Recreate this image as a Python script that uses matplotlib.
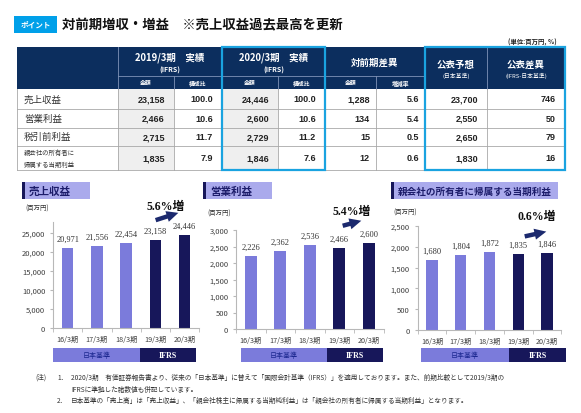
# 対前期増収・増益 slide: summary table + three bar charts
import matplotlib
matplotlib.use("Agg")
import matplotlib.pyplot as plt
from matplotlib.patches import Rectangle, FancyArrowPatch
from matplotlib.ticker import StrMethodFormatter

plt.rcParams['font.family'] = ['Noto Sans CJK JP', 'DejaVu Sans']

# Table data
row_labels = ["売上収益", "営業利益", "税引前利益", "親会社の所有者に\n帰属する当期利益"]
fy2019_amt = [23158, 2466, 2715, 1835]
fy2019_ratio = [100.0, 10.6, 11.7, 7.9]
fy2020_amt = [24446, 2600, 2729, 1846]
fy2020_ratio = [100.0, 10.6, 11.2, 7.6]
yoy_amt = [1288, 134, 15, 12]
yoy_rate = [5.6, 5.4, 0.5, 0.6]
forecast = [23700, 2550, 2650, 1830]
forecast_diff = [746, 50, 79, 16]

# Chart data
periods = ["16/3期", "17/3期", "18/3期", "19/3期", "20/3期"]
revenue = [20971, 21556, 22454, 23158, 24446]
op_income = [2226, 2362, 2536, 2466, 2600]
net_income = [1680, 1804, 1872, 1835, 1846]
chart_titles = ["売上収益", "営業利益", "親会社の所有者に帰属する当期利益"]
growth = ["5.6%増", "5.4%増", "0.6%増"]

W, H = 581, 414
NAVY = "#0c2e5e"
CYAN = "#1aa3e0"
LAV = "#7b7bdb"
LAV_LIGHT = "#aaaaec"
DARK = "#17175a"
GRAY_LINE = "#a8a8a8"
JP = ['Noto Sans CJK JP', 'DejaVu Sans']
SERIF = ['Liberation Serif', 'Noto Sans CJK JP']
NUM = ['Liberation Sans', 'DejaVu Sans']

fig = plt.figure(figsize=(W / 100, H / 100), dpi=100)
bg = fig.add_axes([0, 0, 1, 1])
bg.set_xlim(0, W)
bg.set_ylim(H, 0)
bg.axis('off')

# Title
bg.add_patch(Rectangle((14, 17), 43, 17, color="#00a0e9", lw=0))
bg.text(35.5, 25.5, "ポイント", color="white", fontsize=5.5, fontweight='bold',
        ha='center', va='center')
bg.text(62, 25.5, "対前期増収・増益　※売上収益過去最高を更新", fontsize=9.6,
        fontweight='bold', ha='left', va='center', color="#111111")
bg.text(557, 42, "(単位:百万円, %)", fontsize=4.6, fontweight='bold',
        ha='right', va='center', color="#222222")

# Table
cols = [17, 118, 174, 222, 278, 325, 376, 425, 487, 565]
rows = [90, 110, 128.5, 147, 171]
bg.add_patch(Rectangle((cols[0], 48), cols[-1] - cols[0], 42, color=NAVY, lw=0))
light = "#7f93b8"
bg.plot([cols[1], cols[7]], [77, 77], color=light, lw=0.6)
for x in [cols[1], cols[8]]:
    bg.plot([x, x], [48, 90], color=light, lw=0.6)
for x in [cols[2], cols[4], cols[6]]:
    bg.plot([x, x], [77, 90], color=light, lw=0.6)

hdr = dict(color="white", fontweight='bold', ha='center', va='center')
bg.text((cols[1] + cols[3]) / 2, 58, "2019/3期　実績", fontsize=6.8, **hdr)
bg.text((cols[1] + cols[3]) / 2, 70, "(IFRS)", fontsize=5, **hdr)
bg.text((cols[3] + cols[5]) / 2, 58, "2020/3期　実績", fontsize=6.8, **hdr)
bg.text((cols[3] + cols[5]) / 2, 70, "(IFRS)", fontsize=5, **hdr)
bg.text((cols[5] + cols[7]) / 2, 62.5, "対前期差異", fontsize=6.8, **hdr)
bg.text((cols[7] + cols[8]) / 2, 65, "公表予想", fontsize=6.8, **hdr)
bg.text((cols[8] + cols[9]) / 2, 65, "公表差異", fontsize=6.8, **hdr)
sub = dict(color="white", ha='center', va='center', fontsize=4.2)
bg.text((cols[7] + cols[8]) / 2, 75.5, "(日本基準)", **sub)
bg.text((cols[8] + cols[9]) / 2, 75.5, "(IFRS-日本基準)", **sub)
for i, s in enumerate(["金額", "構成比", "金額", "構成比", "金額", "増減率"]):
    bg.text((cols[1 + i] + cols[2 + i]) / 2, 83.5, s, fontweight='bold', **sub)

# cells
table_cols = [fy2019_amt, fy2019_ratio, fy2020_amt, fy2020_ratio,
              yoy_amt, yoy_rate, forecast, forecast_diff]
ratio_cols = {1, 3, 5}
for r in range(len(row_labels)):
    y0, y1 = rows[r], rows[r + 1]
    yc = (y0 + y1) / 2
    for c in (0, 2):
        bg.add_patch(Rectangle((cols[1 + c], y0), cols[2 + c] - cols[1 + c], y1 - y0,
                               color="#efefef", lw=0))
    if r < 3:
        bg.text(24, yc, row_labels[r], fontsize=6.8, ha='left', va='center',
                color="#333333")
    else:
        bg.text(24, yc, row_labels[r], fontsize=4.6, ha='left', va='center',
                color="#333333", linespacing=1.7)
    for c, vals in enumerate(table_cols):
        v = vals[r]
        s = f"{v:.1f}" if c in ratio_cols else f"{v:,}"
        pad = 6 if c in (4, 5) else 9
        bg.text(cols[2 + c] - pad, yc, s, fontsize=6.5, fontweight='bold',
                family=NUM, ha='right', va='center', color="#222222")
for y in rows[1:]:
    bg.plot([cols[0], cols[-1]], [y, y], color=GRAY_LINE, lw=0.6)
for x in cols:
    bg.plot([x, x], [rows[0], rows[-1]], color=GRAY_LINE, lw=0.6)
bg.add_patch(Rectangle((cols[3], 48), cols[5] - cols[3], rows[-1] - 48,
                       fill=False, ec=CYAN, lw=1.6, zorder=5))
bg.add_patch(Rectangle((cols[7], 48), cols[9] - cols[7], rows[-1] - 48,
                       fill=False, ec=CYAN, lw=1.6, zorder=5))

# Charts
series = [revenue, op_income, net_income]
# left, right, top, bottom (px), ymax, step
frames = [(53, 199.25, 222.6, 329, 28000, 5000),
          (236, 383.5, 231, 330, 3000, 500),
          (417.6, 561.4, 227, 331, 2500, 500)]
title_boxes = [(22, 90), (203, 272), (391, 558)]
title_sizes = [7.6, 7.6, 6.9]
unit_pos = [(25, 209), (207, 214), (393, 213)]
bands = [(53, 140, 196), (241, 327, 383), (421, 509, 566)]
growth_pos = [(166, 207), (352, 212), (537, 217)]
arrows = [((153, 222), (181, 213)), ((340, 227.5), (364, 221)), ((522, 238), (549, 232))]

top = fig.add_axes([0, 0, 1, 1], zorder=10)
top.set_xlim(0, W)
top.set_ylim(H, 0)
top.axis('off')
top.patch.set_alpha(0)

for k, vals in enumerate(series):
    l, r, t, b, ymax, step = frames[k]
    ax = fig.add_axes([l / W, 1 - b / H, (r - l) / W, (b - t) / H])
    ax.patch.set_alpha(0)
    colors = [LAV, LAV, LAV, DARK, DARK]
    ax.bar(range(len(periods)), vals, width=0.4, color=colors)
    ax.set_xlim(-0.5, len(periods) - 0.5)
    ax.set_ylim(0, ymax)
    ax.set_yticks(range(0, ymax + 1, step))
    ax.yaxis.set_major_formatter(StrMethodFormatter('{x:,.0f}'))
    ax.set_xticks(range(len(periods)))
    ax.set_xticklabels(periods)
    ax.set_xticks([i - 0.5 for i in range(len(periods) + 1)], minor=True)
    for sp in ['top', 'right']:
        ax.spines[sp].set_visible(False)
    for sp in ['left', 'bottom']:
        ax.spines[sp].set_color("#b8b8b8")
        ax.spines[sp].set_linewidth(0.8)
    ax.tick_params(axis='y', length=2.5, pad=3, labelsize=5.5, colors="#b8b8b8",
                   labelcolor="#404040")
    ax.tick_params(axis='x', which='major', length=0, pad=5, labelsize=5.2,
                   labelcolor="#404040")
    ax.tick_params(axis='x', which='minor', length=3, color="#b8b8b8")
    for i, v in enumerate(vals):
        ax.annotate(f"{v:,}", (i, v), xytext=(0, 6.5), textcoords='offset points',
                    ha='center', va='center', fontsize=6, family=SERIF,
                    color="#333333")

    # chart title box
    x0, x1 = title_boxes[k]
    bg.add_patch(Rectangle((x0, 183), x1 - x0, 17, color=LAV_LIGHT, lw=0))
    bg.add_patch(Rectangle((x0, 183), 3, 17, color=DARK, lw=0))
    bg.text(x0 + 7, 191.5, chart_titles[k], fontsize=title_sizes[k], fontweight='bold',
            color="#1c1c6a", ha='left', va='center')
    bg.text(unit_pos[k][0], unit_pos[k][1], "(百万円)", fontsize=4.6,
            color="#333333", ha='left', va='center')

    # standard band
    a, m, z = bands[k]
    bg.add_patch(Rectangle((a, 349), m - a, 14, color=LAV, lw=0))
    bg.add_patch(Rectangle((m, 349), z - m, 14, color=DARK, lw=0))
    bg.text((a + m) / 2, 356, "日本基準", fontsize=5, color="#1c2890",
            ha='center', va='center')
    bg.text((m + z) / 2, 356, "IFRS", fontsize=5.8, fontweight='bold',
            family=SERIF, color="white", ha='center', va='center')

    # growth note
    top.text(growth_pos[k][0], growth_pos[k][1], growth[k], fontsize=8.5,
             fontweight='bold', family=SERIF, color="#111111",
             ha='center', va='center')
    top.add_patch(FancyArrowPatch(arrows[k][0], arrows[k][1],
                                  arrowstyle='simple,tail_width=0.32,head_width=0.8,head_length=0.85',
                                  mutation_scale=10, color="#1c2a6e", lw=0))

# Footnotes
fn = dict(fontsize=4.8, color="#333333", ha='left', va='center')
bg.text(35, 378, "(注)", **fn)
bg.text(57, 378, "1．", **fn)
bg.text(71, 378, "2020/3期　有価証券報告書より、従来の「日本基準」に替えて「国際会計基準（IFRS）」を適用しております。また、前期比較として2019/3期の", **fn)
bg.text(71, 389.5, "IFRSに準拠した諸数値も併記しています。", **fn)
bg.text(57, 401, "2．", **fn)
bg.text(71, 401, "日本基準の「売上高」は「売上収益」、「親会社株主に帰属する当期純利益」は「親会社の所有者に帰属する当期利益」となります。", **fn)

fig.savefig("out.png", dpi=100)
